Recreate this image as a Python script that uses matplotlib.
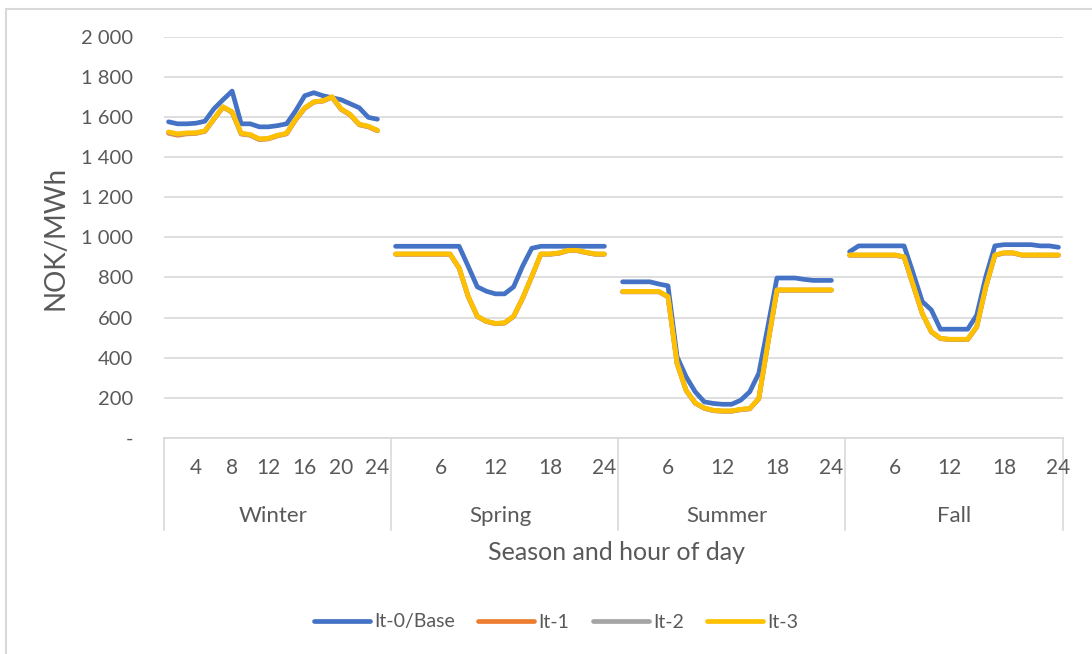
import numpy as np
import matplotlib.pyplot as plt
from matplotlib.transforms import blended_transform_factory
from matplotlib.lines import Line2D
from matplotlib.patches import Rectangle

plt.rcParams['font.family'] = ['Lato', 'DejaVu Sans']

TEXT = "#595959"
GRID = "#D9D9D9"

seasons = ["Winter", "Spring", "Summer", "Fall"]
hour_labels = [
    [4, 8, 12, 16, 20, 24],
    [6, 12, 18, 24],
    [6, 12, 18, 24],
    [6, 12, 18, 24],
]

# NOK/MWh per hour (1..24) for each season
base_winter = [1575, 1565, 1565, 1568, 1578, 1640, 1685, 1728, 1565, 1565, 1550, 1550,
               1556, 1565, 1630, 1705, 1720, 1705, 1695, 1685, 1665, 1645, 1597, 1588]
base_spring = [955, 955, 955, 955, 955, 955, 955, 955, 855, 753, 731, 718,
               718, 753, 857, 945, 955, 955, 955, 955, 955, 955, 955, 955]
base_summer = [778, 778, 778, 778, 767, 758, 405, 305, 230, 180, 172, 168,
               168, 188, 230, 322, 555, 797, 797, 797, 790, 785, 785, 785]
base_fall = [928, 957, 957, 957, 957, 957, 957, 821, 680, 638, 542, 542,
             542, 542, 612, 804, 957, 963, 963, 963, 963, 957, 957, 950]

it1_winter = [1518, 1508, 1515, 1517, 1527, 1588, 1648, 1622, 1514, 1508, 1486, 1490,
              1505, 1515, 1585, 1642, 1673, 1678, 1697, 1637, 1609, 1560, 1550, 1530]
it1_spring = [915, 915, 915, 915, 915, 915, 915, 846, 704, 605, 580, 569,
              572, 605, 696, 804, 915, 915, 920, 933, 933, 923, 915, 915]
it1_summer = [728, 728, 728, 728, 728, 703, 370, 236, 173, 148, 136, 133,
              133, 141, 145, 195, 470, 736, 736, 736, 736, 736, 736, 736]
it1_fall = [910, 910, 910, 910, 910, 910, 901, 761, 620, 528, 495, 490,
            490, 490, 553, 752, 910, 921, 921, 910, 910, 910, 910, 910]

it2_winter = [1522, 1513, 1518, 1519, 1529, 1589, 1649, 1624, 1516, 1510, 1488, 1492,
              1507, 1517, 1587, 1644, 1674, 1679, 1699, 1639, 1611, 1562, 1552, 1532]
it2_spring = [916, 916, 916, 916, 916, 916, 916, 847, 705, 606, 581, 570,
              573, 606, 697, 805, 916, 916, 921, 934, 934, 924, 916, 916]
it2_summer = [729, 729, 729, 729, 729, 704, 371, 237, 174, 149, 137, 134,
              134, 142, 146, 196, 471, 737, 737, 737, 737, 737, 737, 737]
it2_fall = [911, 911, 911, 911, 911, 911, 902, 762, 621, 529, 496, 491,
            491, 491, 554, 753, 911, 922, 922, 911, 911, 911, 911, 911]

it3_winter = [1525, 1515, 1520, 1520, 1530, 1590, 1650, 1625, 1518, 1512, 1490, 1493,
              1508, 1518, 1588, 1645, 1675, 1680, 1700, 1640, 1612, 1563, 1553, 1533]
it3_spring = [917, 917, 917, 917, 917, 917, 917, 848, 706, 607, 582, 571,
              574, 607, 698, 806, 917, 917, 922, 935, 935, 925, 917, 917]
it3_summer = [730, 730, 730, 730, 730, 705, 372, 238, 175, 150, 138, 135,
              135, 143, 147, 197, 472, 738, 738, 738, 738, 738, 738, 738]
it3_fall = [912, 912, 912, 912, 912, 912, 903, 763, 622, 530, 497, 492,
            492, 492, 555, 754, 912, 923, 923, 912, 912, 912, 912, 912]


def join(parts):
    # one empty category between seasons so each line breaks there
    out = []
    for i, p in enumerate(parts):
        out.extend(p)
        if i < len(parts) - 1:
            out.append(np.nan)
    return np.array(out, dtype=float)


series = [
    ("It-0/Base", "#4472C4", join([base_winter, base_spring, base_summer, base_fall])),
    ("It-1", "#ED7D31", join([it1_winter, it1_spring, it1_summer, it1_fall])),
    ("It-2", "#A5A5A5", join([it2_winter, it2_spring, it2_summer, it2_fall])),
    ("It-3", "#FFC000", join([it3_winter, it3_spring, it3_summer, it3_fall])),
]

W, H = 1092, 654
fig = plt.figure(figsize=(W / 100, H / 100), dpi=100)
ax = fig.add_axes([164 / W, 1 - 438 / H, (1063 - 164) / W, (438 - 36.5) / H])

n = len(series[0][2])
x = np.arange(n)
for name, color, y in series:
    ax.plot(x, y, color=color, lw=3.4, solid_capstyle='round',
            solid_joinstyle='round', label=name)

ax.set_xlim(-0.5, n - 0.5)
ax.set_ylim(0, 2000)
ax.set_yticks(range(0, 2001, 200))
ax.set_yticklabels(["-" if v == 0 else f"{v:,}".replace(",", " ")
                    for v in range(0, 2001, 200)])
ax.tick_params(axis='y', length=0, pad=22, labelsize=14.5, labelcolor=TEXT)
ax.set_xticks([])
ax.grid(axis='y', color=GRID, lw=1.2)
ax.set_axisbelow(True)
for side in ["top", "right", "left"]:
    ax.spines[side].set_visible(False)
ax.spines["bottom"].set_color(GRID)
ax.spines["bottom"].set_linewidth(1.2)

# two-level category axis: hours, then season names
trans = blended_transform_factory(ax.transData, ax.transAxes)
ax_h = 438 - 36.5
for s, name in enumerate(seasons):
    start = s * 25
    for h in hour_labels[s]:
        ax.text(start + h - 1, -30 / ax_h, str(h), transform=trans,
                ha='center', va='center', fontsize=15, color=TEXT)
    ax.text(start + 11.5, -78 / ax_h, name, transform=trans,
            ha='center', va='center', fontsize=16, color=TEXT)
for xb in [-0.5, 24.5, 49.5, 74.5, n - 0.5]:
    ax.add_line(Line2D([xb, xb], [0, -92 / ax_h], transform=trans,
                       color=GRID, lw=1.2, clip_on=False))

fig.text(56 / W, 1 - 238 / H, "NOK/MWh", rotation=90, ha='center',
         va='center', fontsize=20, color=TEXT)
fig.text(616 / W, 1 - 552 / H, "Season and hour of day", ha='center',
         va='center', fontsize=18, color=TEXT)

handles = [Line2D([], [], color=c, lw=3.4, solid_capstyle='round')
           for _, c, _ in series]
fig.legend(handles, [s[0] for s in series], loc='center',
           bbox_to_anchor=(556 / W, 1 - 622 / H), ncol=4, frameon=False,
           fontsize=14, handlelength=2.9, handletextpad=0.2,
           columnspacing=1.2, labelcolor=TEXT)

# chart frame (only the left and top edges fall inside the image)
fig.patches.append(Rectangle((6 / W, -0.1), 1.2, 1 - 8.5 / H + 0.1,
                             transform=fig.transFigure, fill=False,
                             edgecolor=GRID, lw=1.5))

fig.savefig("out.png", dpi=100, facecolor='w')
